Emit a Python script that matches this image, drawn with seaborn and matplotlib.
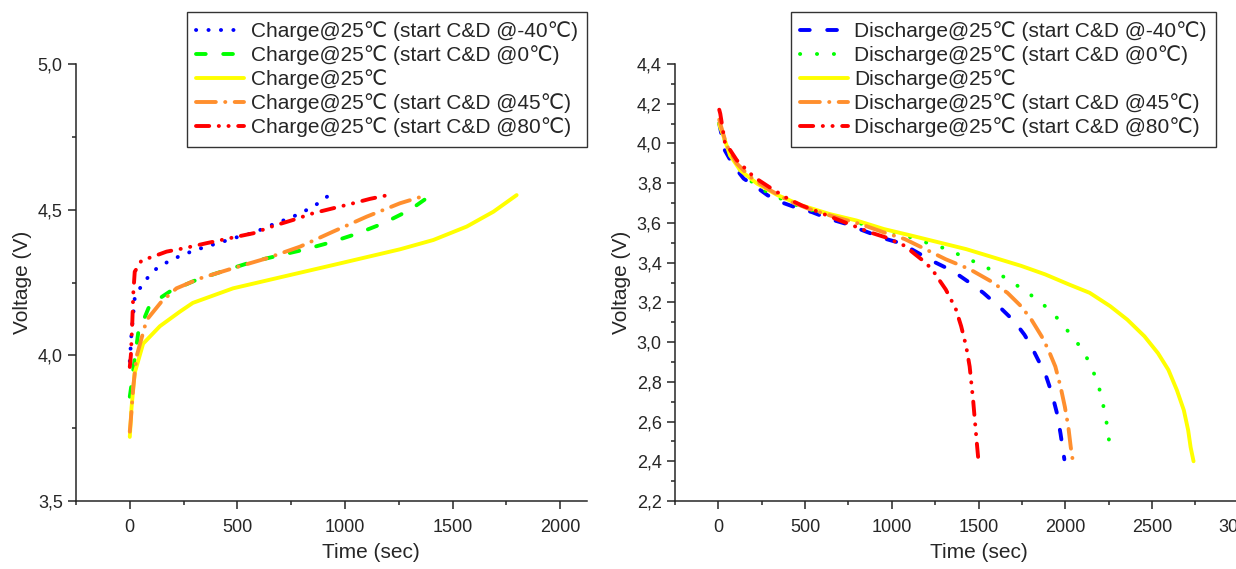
import pandas as pd
import matplotlib
matplotlib.use("Agg")
import matplotlib.pyplot as plt
import matplotlib.ticker as mticker
import seaborn as sns

# ---- charge curves (time in s, voltage in V) ----
chg_m40_t = [0, 8, 15, 23, 62, 127, 198, 271, 341, 419, 496, 574, 651, 721, 787, 860, 927]
chg_m40_v = [3.98, 4.076, 4.133, 4.197, 4.25, 4.30, 4.33, 4.352, 4.37, 4.387, 4.405, 4.42,
             4.445, 4.465, 4.485, 4.514, 4.55]
chg_0_t = [0, 8, 16, 39, 93, 186, 310, 450, 574, 706, 806, 930, 1054, 1178, 1302, 1400]
chg_0_v = [3.858, 3.90, 3.95, 4.076, 4.173, 4.219, 4.259, 4.293, 4.322, 4.345, 4.362,
           4.387, 4.417, 4.453, 4.499, 4.55]
chg_25_t = [0, 8, 23, 62, 140, 233, 293, 480, 712, 945, 1256, 1411, 1566, 1690, 1798]
chg_25_v = [3.72, 3.82, 3.94, 4.04, 4.10, 4.15, 4.18, 4.23, 4.27, 4.31, 4.364, 4.396,
            4.442, 4.493, 4.55]
chg_45_t = [0, 5, 16, 31, 78, 147, 217, 326, 480, 636, 791, 946, 1101, 1256, 1380]
chg_45_v = [3.738, 3.78, 3.89, 3.995, 4.121, 4.184, 4.23, 4.264, 4.299, 4.333, 4.373,
            4.425, 4.476, 4.522, 4.55]
chg_80_t = [0, 5, 8, 12, 16, 23, 54, 108, 171, 248, 357, 496, 574, 667, 760, 853, 946,
            1039, 1116, 1200]
chg_80_v = [3.96, 4.00, 4.05, 4.12, 4.21, 4.287, 4.325, 4.339, 4.356, 4.367, 4.385, 4.407,
            4.419, 4.444, 4.465, 4.488, 4.505, 4.522, 4.537, 4.55]

# ---- discharge curves ----
dis_m40_t = [5, 17, 37, 86, 146, 205, 284, 363, 442, 541, 640, 738, 837, 955, 1035, 1113,
             1232, 1351, 1449, 1528, 1627, 1706, 1765, 1805, 1844, 1884, 1923, 1953, 1973, 1995]
dis_m40_v = [4.10, 4.05, 3.966, 3.89, 3.823, 3.789, 3.739, 3.704, 3.679, 3.654, 3.62, 3.595,
             3.561, 3.522, 3.502, 3.468, 3.409, 3.358, 3.299, 3.248, 3.172, 3.105, 3.037,
             2.978, 2.91, 2.843, 2.742, 2.64, 2.539, 2.41]
dis_0_t = [5, 11, 67, 146, 244, 363, 481, 620, 758, 896, 985, 1074, 1163, 1252, 1341, 1420,
           1509, 1597, 1676, 1755, 1805, 1884, 1963, 2032, 2101, 2150, 2190, 2215, 2235, 2249, 2262]
dis_0_v = [4.10, 4.08, 3.941, 3.84, 3.772, 3.721, 3.679, 3.645, 3.612, 3.578, 3.561, 3.539,
           3.51, 3.488, 3.46, 3.426, 3.392, 3.353, 3.313, 3.265, 3.235, 3.181, 3.113, 3.037,
           2.961, 2.877, 2.789, 2.70, 2.615, 2.53, 2.44]
dis_25_t = [5, 11, 27, 67, 126, 225, 343, 481, 640, 797, 955, 1113, 1271, 1429, 1587, 1745,
            1884, 2022, 2141, 2259, 2358, 2457, 2535, 2595, 2644, 2684, 2709, 2723, 2740]
dis_25_v = [4.10, 4.08, 4.043, 3.941, 3.865, 3.797, 3.739, 3.688, 3.645, 3.612, 3.569, 3.536,
            3.502, 3.468, 3.426, 3.384, 3.341, 3.29, 3.248, 3.181, 3.113, 3.029, 2.944, 2.86,
            2.758, 2.657, 2.556, 2.471, 2.40]
dis_45_t = [5, 11, 47, 106, 185, 284, 402, 521, 679, 817, 955, 1074, 1193, 1311, 1449, 1568,
            1667, 1745, 1805, 1864, 1903, 1943, 1973, 1998, 2018, 2032, 2045]
dis_45_v = [4.12, 4.10, 3.992, 3.899, 3.831, 3.772, 3.713, 3.671, 3.628, 3.595, 3.552, 3.519,
            3.468, 3.417, 3.367, 3.308, 3.248, 3.181, 3.113, 3.029, 2.961, 2.877, 2.776, 2.674,
            2.573, 2.471, 2.395]
dis_80_t = [5, 11, 37, 106, 205, 294, 402, 481, 580, 679, 778, 876, 965, 1074, 1133, 1182,
            1232, 1271, 1311, 1341, 1370, 1400, 1429, 1449, 1459, 1469, 1479, 1489, 1500]
dis_80_v = [4.17, 4.15, 4.008, 3.916, 3.831, 3.78, 3.721, 3.688, 3.654, 3.62, 3.586, 3.552,
            3.527, 3.485, 3.443, 3.409, 3.367, 3.316, 3.265, 3.215, 3.164, 3.08, 2.978, 2.877,
            2.792, 2.708, 2.606, 2.505, 2.40]

charge_labels = ["Charge@25℃ (start C&D @-40℃)", "Charge@25℃ (start C&D @0℃)", "Charge@25℃",
                 "Charge@25℃ (start C&D @45℃)", "Charge@25℃ (start C&D @80℃)"]
discharge_labels = ["Discharge@25℃ (start C&D @-40℃)", "Discharge@25℃ (start C&D @0℃)",
                    "Discharge@25℃", "Discharge@25℃ (start C&D @45℃)",
                    "Discharge@25℃ (start C&D @80℃)"]

colors = ["#0000ff", "#00ff00", "#ffff00", "#ff8f2e", "#ff0000"]
# dash patterns in units of line width (round caps add one width to each mark)
DOT = (0, (0.05, 3.15))
DOT_WIDE = (0, (0.05, 4.3))
DASH = (0, (2.5, 4.5))
SOLID = "-"
DASHDOT = (0, (5.1, 2.4, 0.05, 2.4))
DASHDOTDOT = (0, (3.4, 2.45, 0.05, 2.45, 0.05, 2.45))

sns.set_style("ticks")
plt.rcParams["font.family"] = ["Liberation Sans", "DejaVu Sans"]

fig = plt.figure(figsize=(12.36, 5.69), dpi=100)
W, H = 1236, 569
ax1 = fig.add_axes([76 / W, 68 / H, 511 / W, 437 / H])
ax2 = fig.add_axes([675 / W, 68 / H, 607 / W, 437 / H])


def draw(ax, series, labels, styles):
    for (t, v), lab, col, ls in zip(series, labels, colors, styles):
        df = pd.DataFrame({"t": t, "v": v})
        sns.lineplot(data=df, x="t", y="v", ax=ax, color=col, linestyle=ls, lw=2.8,
                     label=lab, estimator=None, sort=False,
                     dash_capstyle="round", solid_capstyle="round")


draw(ax1, [(chg_m40_t, chg_m40_v), (chg_0_t, chg_0_v), (chg_25_t, chg_25_v),
           (chg_45_t, chg_45_v), (chg_80_t, chg_80_v)],
     charge_labels, [DOT, DASH, SOLID, DASHDOT, DASHDOTDOT])
draw(ax2, [(dis_m40_t, dis_m40_v), (dis_0_t, dis_0_v), (dis_25_t, dis_25_v),
           (dis_45_t, dis_45_v), (dis_80_t, dis_80_v)],
     discharge_labels, [DASH, DOT_WIDE, SOLID, DASHDOT, DASHDOTDOT])

comma = mticker.FuncFormatter(lambda x, p: f"{x:.1f}".replace(".", ","))

for ax in (ax1, ax2):
    sns.despine(ax=ax)
    for s in ("left", "bottom"):
        ax.spines[s].set_linewidth(1.1)
    ax.xaxis.set_major_locator(mticker.MultipleLocator(500))
    ax.xaxis.set_minor_locator(mticker.MultipleLocator(250))
    ax.yaxis.set_major_formatter(comma)
    ax.tick_params(which="major", direction="out", length=6, width=1.1, labelsize=13)
    ax.tick_params(which="minor", direction="out", length=3, width=1.1)
    ax.tick_params(axis="x", which="major", pad=7)
    ax.set_xlabel("Time (sec)", fontsize=15)
    ax.set_ylabel("Voltage (V)", fontsize=15)

ax1.set_xlim(-250, 2125)
ax1.set_ylim(3.5, 5.0)
ax1.yaxis.set_major_locator(mticker.MultipleLocator(0.5))
ax1.yaxis.set_minor_locator(mticker.MultipleLocator(0.25))
ax1.xaxis.set_label_coords(0.577, -0.095)

ax2.set_xlim(-250, 3250)
ax2.set_ylim(2.2, 4.4)
ax2.yaxis.set_major_locator(mticker.MultipleLocator(0.2))
ax2.yaxis.set_minor_locator(mticker.MultipleLocator(0.1))
ax2.xaxis.set_label_coords(0.5, -0.095)

leg_kw = dict(loc="upper right", bbox_transform=fig.transFigure, borderaxespad=0,
              fontsize=15, frameon=True, fancybox=False, handlelength=2.3,
              handletextpad=0.3, labelspacing=0.2, borderpad=0.45)
l1 = ax1.legend(bbox_to_anchor=(587 / W, 1 - 12 / H), **leg_kw)
l2 = ax2.legend(bbox_to_anchor=(1216 / W, 1 - 12 / H), **leg_kw)
for leg in (l1, l2):
    leg.get_frame().set_edgecolor("#333333")
    leg.get_frame().set_linewidth(1.0)
    leg.get_frame().set_alpha(1)

fig.savefig("out.png", dpi=100)
